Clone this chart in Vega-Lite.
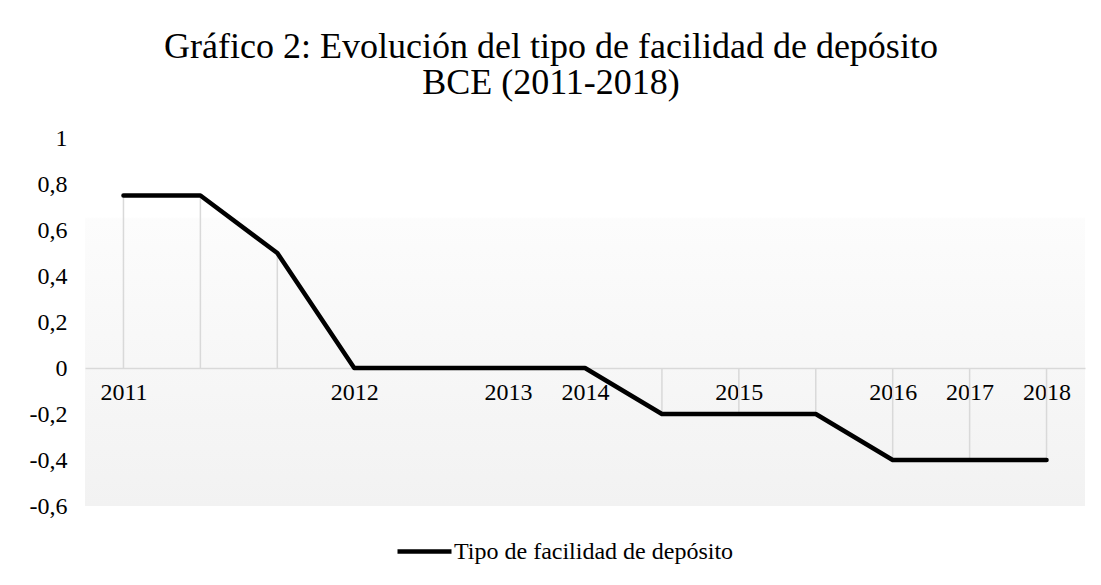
{
  "$schema": "https://vega.github.io/schema/vega-lite/v6.json",
  "autosize": "none",
  "width": 1000,
  "height": 368,
  "padding": {"left": 85, "top": 138, "right": 16, "bottom": 79},
  "background": "white",
  "title": {
    "text": ["Gráfico 2: Evolución del tipo de facilidad de depósito", "BCE (2011-2018)"],
    "font": "Liberation Serif",
    "fontSize": 36,
    "fontWeight": "normal",
    "color": "#000000",
    "lineHeight": 36,
    "anchor": "middle",
    "frame": "group",
    "dx": -34,
    "offset": 24
  },
  "data": {
    "values": [
      {"orden": "2011", "valor": 0.75},
      {"orden": "2011-b", "valor": 0.75},
      {"orden": "2011-c", "valor": 0.5},
      {"orden": "2012", "valor": 0},
      {"orden": "2012-b", "valor": 0},
      {"orden": "2013", "valor": 0},
      {"orden": "2014", "valor": 0},
      {"orden": "2014-b", "valor": -0.2},
      {"orden": "2015", "valor": -0.2},
      {"orden": "2015-b", "valor": -0.2},
      {"orden": "2016", "valor": -0.4},
      {"orden": "2017", "valor": -0.4},
      {"orden": "2018", "valor": -0.4}
    ]
  },
  "encoding": {
    "x": {
      "field": "orden",
      "type": "ordinal",
      "sort": null,
      "scale": {"type": "point", "padding": 0.5},
      "axis": {
        "title": null,
        "orient": "bottom",
        "offset": -138,
        "labelAngle": 0,
        "ticks": false,
        "domainColor": "#d9d9d9",
        "domainWidth": 1.5,
        "labelFont": "Liberation Serif",
        "labelFontSize": 24,
        "labelColor": "#000000",
        "labelPadding": 12,
        "labelExpr": "indexof(datum.label, '-') > 0 ? '' : datum.label",
        "zindex": 0
      }
    },
    "y": {
      "field": "valor",
      "type": "quantitative",
      "scale": {"domain": [-0.6, 1], "nice": false, "zero": false},
      "axis": {
        "title": null,
        "values": [-0.6, -0.4, -0.2, 0, 0.2, 0.4, 0.6, 0.8, 1],
        "domain": false,
        "ticks": false,
        "grid": false,
        "labelFont": "Liberation Serif",
        "labelFontSize": 24,
        "labelColor": "#000000",
        "labelPadding": 18,
        "labelExpr": "replace(replace(format(datum.value, '.1~f'), '.', ','), '\u2212', '-')"
      }
    }
  },
  "layer": [
    {
      "mark": {"type": "rule", "color": "#d9d9d9", "strokeWidth": 1.5},
      "encoding": {
        "y2": {"datum": 0}
      }
    },
    {
      "mark": {"type": "line", "strokeWidth": 4.5, "strokeJoin": "round", "strokeCap": "round"},
      "encoding": {
        "color": {
          "datum": "Tipo de facilidad de depósito",
          "type": "nominal",
          "scale": {"range": ["#000000"]},
          "legend": {
            "title": null,
            "orient": "none",
            "legendX": 310,
            "legendY": 384,
            "symbolType": "stroke",
            "symbolSize": 2916,
            "symbolStrokeWidth": 4.5,
            "labelFont": "Liberation Serif",
            "labelFontSize": 24,
            "labelColor": "#000000",
            "labelOffset": 0,
            "labelLimit": 0
          }
        }
      }
    }
  ],
  "config": {
    "font": "Liberation Serif",
    "axis": {"labelFont": "Liberation Serif", "labelFontSize": 24},
    "legend": {"labelFont": "Liberation Serif", "labelFontSize": 24},
    "view": {
      "stroke": null,
      "fill": {
        "gradient": "linear",
        "x1": 0, "y1": 0, "x2": 0, "y2": 1,
        "stops": [
          {"offset": 0, "color": "#ffffff"},
          {"offset": 0.215, "color": "#ffffff"},
          {"offset": 0.22, "color": "#fcfcfc"},
          {"offset": 1, "color": "#f2f2f2"}
        ]
      }
    }
  }
}
